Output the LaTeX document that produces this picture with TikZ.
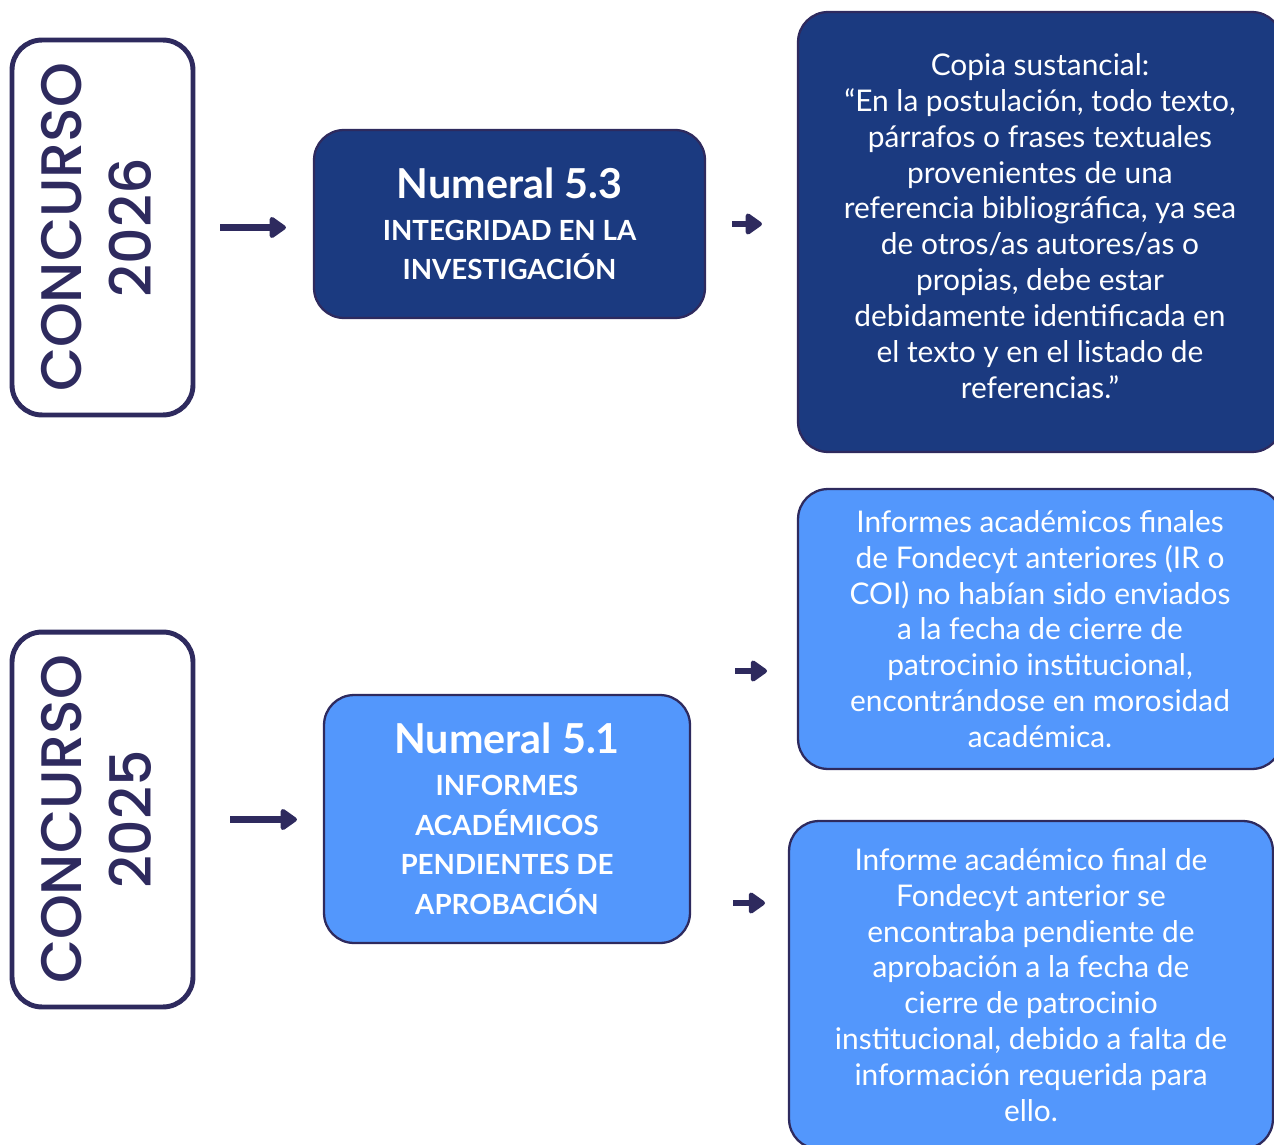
\documentclass[tikz,border=0pt]{standalone}
\usepackage{fontspec}
\setmainfont{Lato}
\newfontfamily\yearfont{Poppins Medium}
\usetikzlibrary{arrows.meta}
\definecolor{navy}{HTML}{1B3A80}
\definecolor{sky}{HTML}{5397FC}
\definecolor{ink}{HTML}{2E2A5E}

\begin{document}
\begin{tikzpicture}[x=0.02cm, y=-0.02cm,
		yearbox/.style={draw=ink, line width=2.8pt, rounded corners=0.6cm, minimum width=3.62cm, minimum height=7.5cm, text=ink, inner sep=0pt},
		rulebox/.style={draw=ink, line width=1.3pt, rounded corners=0.6cm, text=white, align=center, inner sep=0pt, font=\bfseries\fontsize{15.8}{22.7}\selectfont},
		textbox/.style={draw=ink, line width=1.3pt, rounded corners=0.6cm, text=white, align=center, inner sep=0pt, minimum width=9.68cm, font=\fontsize{17}{20.4}\selectfont},
		arr/.style={draw=ink, line width=3.8pt, -{Triangle[length=0.36cm, width=0.48cm, round]}}]
		\useasboundingbox (0,0) rectangle (1274,1145);
		\clip (0,0) rectangle (1274,1145);
		\def\yeartext#1{\rotatebox{90}{\yearfont\fontsize{32.5}{40}\selectfont\begin{tabular}{@{}c@{}}CONCURSO\\#1\end{tabular}}}
		% concurso 2026
		\node[yearbox] (c26) at (102.5,227.5) {\yeartext{2026}};
		\node[rulebox, fill=navy, minimum width=7.82cm, minimum height=3.76cm] (n53) at (509.5,224) {{\fontsize{23.5}{26}\selectfont Numeral 5.3}\\[1pt]INTEGRIDAD EN LA\\INVESTIGACIÓN};
		\node[textbox, fill=navy, minimum height=8.8cm] (quote) at (1040,232) {};
		\node[text=white, align=center, font=\fontsize{17}{20.4}\selectfont] (qtext) at (1040,226) {Copia sustancial:\\“En la postulación, todo texto,\\párrafos o frases textuales\\provenientes de una\\referencia bibliográfica, ya sea\\de otros/as autores/as o\\propias, debe estar\\debidamente identificada en\\el texto y en el listado de\\referencias.”};
		\draw[arr, shorten <=0.5cm, shorten >=0.54cm] (c26.east) -- (c26.east -| n53.west);
		\draw[arr, shorten <=0.52cm, shorten >=0.7cm] (n53.east) -- (n53.east -| quote.west);
		% concurso 2025
		\node[yearbox] (c25) at (102.5,819.5) {\yeartext{2025}};
		\node[rulebox, fill=sky, minimum width=7.32cm, minimum height=4.96cm] (n51) at (507,819) {{\fontsize{23.5}{26}\selectfont Numeral 5.1}\\[1pt]INFORMES\\ACADÉMICOS\\PENDIENTES DE\\APROBACIÓN};
		\node[textbox, fill=sky, minimum height=5.6cm] (inf1) at (1040,629) {Informes académicos finales\\de Fondecyt anteriores (IR o\\COI) no habían sido enviados\\a la fecha de cierre de\\patrocinio institucional,\\encontrándose en morosidad\\académica.};
		\node[textbox, fill=sky, minimum height=6.56cm] (inf2) at (1031,985) {Informe académico final de\\Fondecyt anterior se\\encontraba pendiente de\\aprobación a la fecha de\\cierre de patrocinio\\institucional, debido a falta de\\información requerida para\\ello.};
		\coordinate (t1) at (767,671);
		\coordinate (t2) at (765,903);
		\draw[arr, shorten <=0.7cm, shorten >=0.52cm] (c25.east) -- (c25.east -| n51.west);
		\draw[arr, shorten <=0.88cm] (t1 -| n51.east) -- (t1);
		\draw[arr, shorten <=0.84cm] (t2 -| n51.east) -- (t2);
	\end{tikzpicture}
\end{document}
